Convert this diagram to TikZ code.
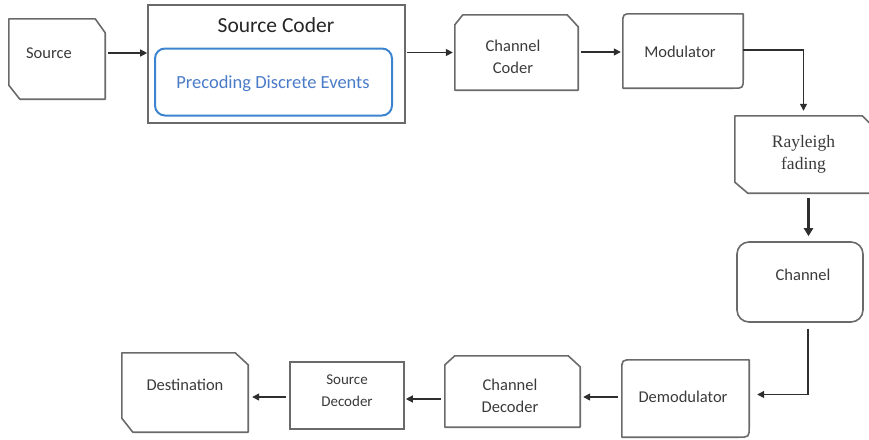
\documentclass[tikz,border=0pt]{standalone}
\usepackage{fontspec}
\setmainfont{Carlito}
\newfontfamily\serifface{Liberation Serif}
\usetikzlibrary{arrows.meta,calc}

\definecolor{edgegray}{HTML}{6A6A6A}
\definecolor{inkgray}{HTML}{3A3A3A}
\definecolor{arrowgray}{HTML}{2E2E2E}
\definecolor{precblue}{HTML}{3C84D0}
\definecolor{prectext}{HTML}{4A7BC8}

% outline with cut top-right and bottom-left corners
\newcommand\cutTRBL[5]{%
  \draw[outline] (#1.north west) -- ($(#1.north east)+(-#2,0)$) -- ($(#1.north east)+(0,-#3)$)
    -- (#1.south east) -- ($(#1.south west)+(#4,0)$) -- ($(#1.south west)+(0,#5)$) -- cycle;}
% outline with cut top-left and top-right corners
\newcommand\cutTLTR[5]{%
  \draw[outline] (#1.south west) -- ($(#1.north west)+(0,-#3)$) -- ($(#1.north west)+(#2,0)$)
    -- ($(#1.north east)+(-#4,0)$) -- ($(#1.north east)+(0,-#5)$) -- (#1.south east) -- cycle;}
% outline with rounded top-left and bottom-right corners
\newcommand\roundTLBR[2]{%
  \draw[outline] (#1.south west) -- ($(#1.north west)+(0,-#2)$) .. controls (#1.north west) .. ($(#1.north west)+(#2,0)$)
    -- (#1.north east) -- ($(#1.south east)+(0,#2)$) .. controls (#1.south east) .. ($(#1.south east)+(-#2,0)$) -- cycle;}

\begin{document}
\begin{tikzpicture}[x=1pt,y=1pt,
  blk/.style 2 args={inner sep=0pt, minimum width=#1, minimum height=#2},
  outline/.style={draw=edgegray, line width=1.6pt, line join=round},
  lbl/.style={inner sep=0pt, align=center, text=inkgray, font=\fontsize{16.5}{22}\selectfont},
  arr/.style={draw=arrowgray, line width=1.3pt, -{Triangle[length=7pt,width=7pt]}},
  thickarr/.style={draw=arrowgray, line width=2.4pt, -{Triangle[length=8pt,width=9pt]}}]

\useasboundingbox (0,0) rectangle (869,-439);

% ---- transmitter chain ----
\node[blk={96}{80}] (src) at (57,-59) {};
\cutTRBL{src}{10}{14}{11}{14}
\node[lbl] (srcT) at ($(src.center)+(-8,6)$) {Source};

\node[blk={257}{118}, draw=edgegray, line width=1.6pt] (coder) at (276.5,-64) {};
\node[inner sep=0pt, text=black!85, font=\fontsize{21.5}{24}\selectfont] (coderT) at (276,-25) {Source Coder};
\node[blk={237}{67}, draw=precblue, line width=2pt, rounded corners=10pt] (prec) at (273.5,-82) {};
\node[inner sep=0pt, text=prectext, font=\fontsize{18.5}{22}\selectfont] (precT) at (273,-84) {Precoding Discrete Events};

\node[blk={123}{75}] (cc) at (516.5,-52.5) {};
\cutTLTR{cc}{8}{10}{11}{12}
\node[lbl] (ccT) at ($(cc.center)+(-3.5,-4.5)$) {Channel\\Coder};

\node[blk={120}{74}] (mod) at (683,-51) {};
\roundTLBR{mod}{10}
\node[lbl] (modT) at ($(mod.center)+(-3,-1)$) {Modulator};

% ---- channel ----
\node[blk={137}{77}] (ray) at (803.5,-154.5) {};
\cutTRBL{ray}{10}{10}{13}{11}
\node[lbl, font=\serifface\fontsize{17.5}{22}\selectfont] (rayT) at (ray.center) {Rayleigh\\fading};

\node[blk={126}{80}, draw=edgegray, line width=1.6pt, rounded corners=12pt] (chan) at (800,-282) {};
\node[lbl] (chanT) at ($(chan.center)+(3,7)$) {Channel};

% ---- receiver chain ----
\node[blk={127}{77}] (demod) at (685.5,-398.5) {};
\roundTLBR{demod}{11}
\node[lbl] (demodT) at ($(demod.center)+(-2.5,1.5)$) {Demodulator};

\node[blk={135}{71}] (cd) at (512.5,-391.5) {};
\cutTLTR{cd}{10}{9}{12}{11}
\node[lbl] (cdT) at ($(cd.center)+(-2.5,-4)$) {Channel\\Decoder};

\node[blk={114}{67}, draw=edgegray, line width=1.6pt] (sd) at (347,-395.5) {};
\node[lbl, font=\fontsize{15}{22}\selectfont] (sdT) at ($(sd.center)+(0,4.5)$) {Source\\Decoder};

\node[blk={126}{79}] (dest) at (185,-392.5) {};
\cutTRBL{dest}{13}{12}{11}{14}
\node[lbl] (destT) at ($(dest.center)+(0,7.5)$) {Destination};

% ---- connectors ----
\draw[arr, shorten <=3pt] ([yshift=6]src.east) -- ([yshift=6]src.east -| coder.west);
\draw[arr, shorten <=1pt, shorten >=2pt] (cc.west -| coder.east) -- (cc.west);
\draw[arr, shorten <=3pt, shorten >=2pt] ([yshift=0.5]cc.east) -- ([yshift=0.5]cc.east -| mod.west);
\draw[arr, shorten >=5pt] ([yshift=1]mod.east) -| (ray.north);
\draw[thickarr, shorten <=5pt, shorten >=5pt] ([xshift=5]ray.south) -- ([xshift=5]ray.south |- chan.north);
\draw[arr, shorten <=6pt, shorten >=8pt] ([xshift=8]chan.south) |- ([yshift=4]demod.east);
\draw[arr, shorten <=4pt, shorten >=3pt] ([yshift=1.5]demod.west) -- ([yshift=1.5]demod.west -| cd.east);
\draw[arr, shorten <=4pt, shorten >=1pt] ([yshift=-7.5]cd.west) -- ([yshift=-7.5]cd.west -| sd.east);
\draw[arr, shorten <=3pt, shorten >=4pt] ([yshift=-1.5]sd.west) -- ([yshift=-1.5]sd.west -| dest.east);
\end{tikzpicture}
\end{document}
